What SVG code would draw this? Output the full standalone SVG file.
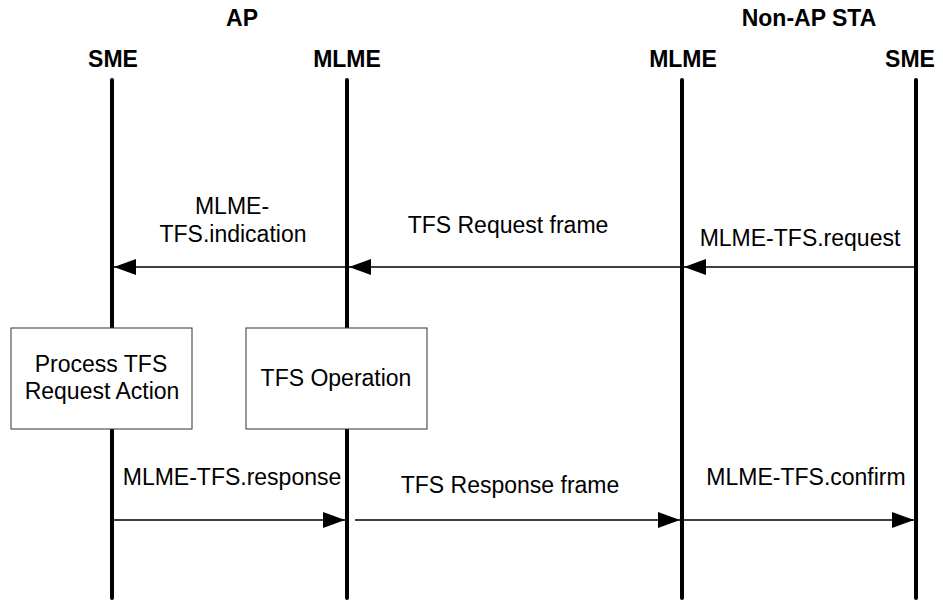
<svg xmlns="http://www.w3.org/2000/svg" width="943" height="602" viewBox="0 0 943 602">
<style>
text{font-family:"Liberation Sans",Arial,sans-serif;font-size:23px;fill:#000;text-anchor:middle}
.b{font-weight:bold}
.life{stroke:#000;stroke-width:4;stroke-linecap:round;fill:none}
.msg{stroke:#000;stroke-width:1.5;fill:none}
.box{fill:#fff;stroke:#333;stroke-width:1}
</style>
<defs>
<marker id="ah" markerUnits="userSpaceOnUse" markerWidth="22" markerHeight="16" viewBox="0 0 22 16" refX="22" refY="8" orient="auto">
<path d="M0,0 L22,8 L0,16 Z" fill="#000"/>
</marker>
</defs>
<g id="headers">
<text class="b" x="242" y="26">AP</text>
<text class="b" x="809" y="26">Non-AP STA</text>
</g>
<g id="ap-sme">
<text class="b" x="113" y="67">SME</text>
<line class="life" x1="112" y1="80" x2="112" y2="598"/>
</g>
<g id="ap-mlme">
<text class="b" x="347" y="67">MLME</text>
<line class="life" x1="347" y1="80" x2="347" y2="598"/>
</g>
<g id="sta-mlme">
<text class="b" x="683" y="67">MLME</text>
<line class="life" x1="682" y1="80" x2="682" y2="598"/>
</g>
<g id="sta-sme">
<text class="b" x="910" y="67">SME</text>
<line class="life" x1="916" y1="80" x2="916" y2="598"/>
</g>
<g id="process-box">
<rect class="box" x="11" y="328" width="181" height="101"/>
<text x="101" y="372">Process TFS</text>
<text x="102" y="399">Request Action</text>
</g>
<g id="operation-box">
<rect class="box" x="246" y="328" width="181" height="101"/>
<text x="336" y="386">TFS Operation</text>
</g>
<g id="connectors">
<line class="msg" x1="914" y1="267" x2="684" y2="267" marker-end="url(#ah)"/>
<line class="msg" x1="680" y1="267" x2="349" y2="267" marker-end="url(#ah)"/>
<line class="msg" x1="345" y1="267" x2="114" y2="267" marker-end="url(#ah)"/>
<line class="msg" x1="114" y1="520" x2="345" y2="520" marker-end="url(#ah)"/>
<line class="msg" x1="355" y1="520" x2="680" y2="520" marker-end="url(#ah)"/>
<line class="msg" x1="684" y1="520" x2="914" y2="520" marker-end="url(#ah)"/>
</g>
<g id="labels">
<text x="232" y="214">MLME-</text>
<text x="233" y="242">TFS.indication</text>
<text x="508" y="233">TFS Request frame</text>
<text x="800" y="246">MLME-TFS.request</text>
<text x="232" y="485">MLME-TFS.response</text>
<text x="510" y="493">TFS Response frame</text>
<text x="806" y="485">MLME-TFS.confirm</text>
</g>
</svg>
